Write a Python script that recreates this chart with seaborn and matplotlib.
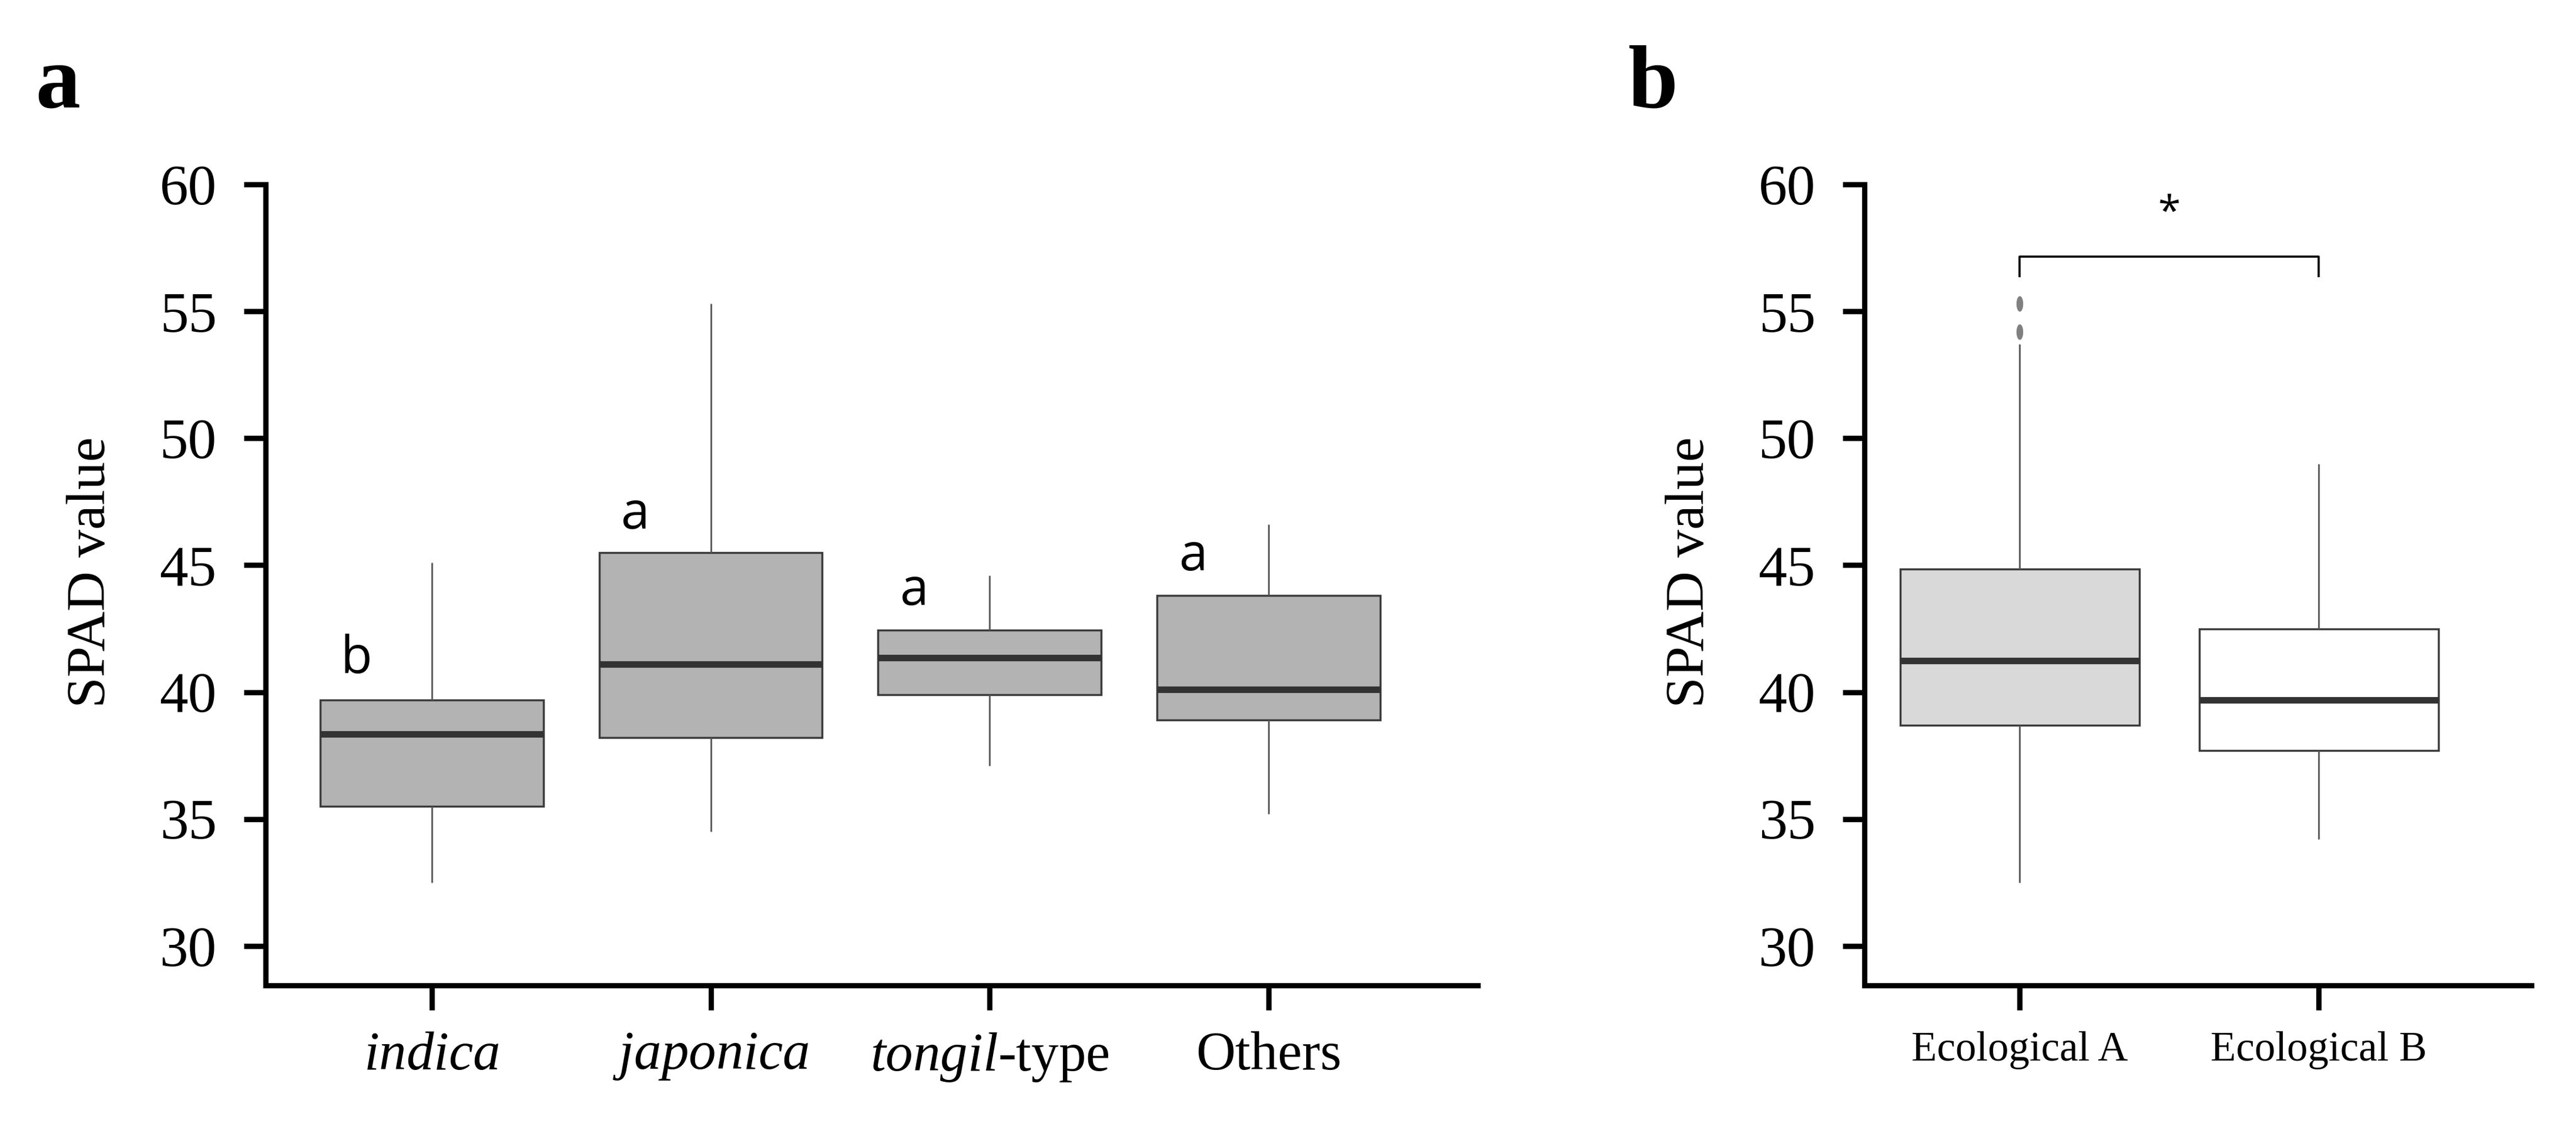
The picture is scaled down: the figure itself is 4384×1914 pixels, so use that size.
import numpy as np
import pandas as pd
import matplotlib
matplotlib.use("Agg")
import matplotlib.pyplot as plt
from matplotlib.path import Path
import seaborn as sns

# ---------------- data ----------------
cats_a = ["indica", "japonica", "tongil-type", "Others"]
tick_labels_a = [r"$\mathit{indica}$", r"$\mathit{japonica}$", r"$\mathit{tongil}$-type", "Others"]
lo_a = [32.5, 34.5, 37.1, 35.2]
q1_a = [35.5, 38.2, 39.9, 38.9]
med_a = [38.35, 41.1, 41.35, 40.1]
q3_a = [39.7, 45.5, 42.45, 43.8]
hi_a = [45.1, 55.3, 44.6, 46.6]
fliers_a = [[], [], [], []]
letters_a = ["b", "a", "a", "a"]
letter_y_a = [40.75, 46.45, 43.45, 44.8]   # baseline of the letters

cats_b = ["Ecological A", "Ecological B"]
lo_b = [32.5, 34.2]
q1_b = [38.7, 37.7]
med_b = [41.25, 39.7]
q3_b = [44.85, 42.5]
hi_b = [53.7, 49.0]
fliers_b = [[54.2, 55.3], []]
sig_label = "*"
bracket_y = 57.15
bracket_drop = 0.8
star_y = 58.85

colors_a = ["#b3b3b3"] * 4
colors_b = ["#d9d9d9", "#ffffff"]


def build(cats, lo, q1, med, q3, hi, fl):
    rows = []
    for c, a, b, m, d, e, f in zip(cats, lo, q1, med, q3, hi, fl):
        vals = [a] + [b] * 3 + [m] * 3 + [d] * 3 + [e] + list(f)
        rows += [(c, v) for v in vals]
    return pd.DataFrame(rows, columns=["group", "SPAD"])


df_a = build(cats_a, lo_a, q1_a, med_a, q3_a, hi_a, fliers_a)
df_b = build(cats_b, lo_b, q1_b, med_b, q3_b, hi_b, fliers_b)

# ---------------- style ----------------
sns.set_theme(style="ticks")
plt.rcParams["font.family"] = ["Liberation Serif", "DejaVu Serif"]
plt.rcParams["mathtext.fontset"] = "custom"
plt.rcParams["mathtext.rm"] = "Liberation Serif"
plt.rcParams["mathtext.it"] = "Liberation Serif:italic"
for k in ("text.color", "axes.labelcolor", "xtick.color", "ytick.color"):
    plt.rcParams[k] = "black"

t = np.linspace(0, 2 * np.pi, 60)
ellipse = Path(np.column_stack([0.4 * np.cos(t), np.sin(t)]), closed=True)

fig = plt.figure(figsize=(43.84, 19.14), dpi=100)
bottom, top = 1 - 1678 / 1914, 1 - 314 / 1914
ax_a = fig.add_axes([452 / 4384, bottom, (2515 - 452) / 4384, top - bottom])
ax_b = fig.add_axes([3173 / 4384, bottom, (4308 - 3173) / 4384, top - bottom])

common = dict(
    width=0.8, whis=1.5, showcaps=False, linewidth=2.5, linecolor="#3c3c3c",
    boxprops={"edgecolor": "#3c3c3c", "linewidth": 2.5},
    medianprops={"color": "#333333", "linewidth": 8},
    whiskerprops={"color": "#555555", "linewidth": 2.0},
    flierprops={"marker": ellipse, "markerfacecolor": "#808080",
                "markeredgecolor": "#808080", "markersize": 18},
    legend=False,
)

sns.boxplot(data=df_a, x="group", y="SPAD", hue="group", order=cats_a,
            hue_order=cats_a, palette=colors_a, saturation=1, ax=ax_a, **common)
sns.boxplot(data=df_b, x="group", y="SPAD", hue="group", order=cats_b,
            hue_order=cats_b, palette=colors_b, saturation=1, ax=ax_b, **common)

for ax, xl in ((ax_a, (-0.596, 3.75)), (ax_b, (-0.519, 1.711))):
    ax.set_xlim(*xl)
    ax.set_ylim(28.45, 60)
    ax.set_yticks([30, 35, 40, 45, 50, 55, 60])
    sns.despine(ax=ax)
    for s in ("left", "bottom"):
        ax.spines[s].set_linewidth(6.5)
        ax.spines[s].set_color("black")
    ax.tick_params(axis="y", length=27, width=6.5, color="black", labelsize=70, pad=33)
    ax.tick_params(axis="x", length=30, width=6.5, color="black", pad=26)
    ax.set_xlabel("")
    ax.set_ylabel("SPAD value", fontsize=68)

ax_a.set_xticks(range(len(cats_a)))
ax_a.set_xticklabels(tick_labels_a, fontsize=67)
ax_b.set_xticks(range(len(cats_b)))
ax_b.set_xticklabels(cats_b, fontsize=51)

ax_a.yaxis.set_label_coords(-0.123, 0.516)
ax_b.yaxis.set_label_coords(-0.224, 0.516)

# group letters
for i, (lab, y) in enumerate(zip(letters_a, letter_y_a)):
    ax_a.text(i - 0.27, y, lab, ha="center", va="baseline", fontsize=63,
              family=["Open Sans", "DejaVu Sans"])

# significance bracket
ax_b.plot([0, 0, 1, 1], [bracket_y - bracket_drop, bracket_y, bracket_y, bracket_y - bracket_drop],
          color="black", lw=2.6, solid_joinstyle="round", solid_capstyle="butt")
ax_b.text(0.5, star_y, sig_label, ha="center", va="center", fontsize=50,
          family=["Open Sans", "DejaVu Sans"])

fig.text(98 / 4384, 1 - 183 / 1914, "a", fontsize=110, fontweight="bold", ha="center", va="baseline")
fig.text(2813 / 4384, 1 - 183 / 1914, "b", fontsize=110, fontweight="bold", ha="center", va="baseline")

fig.savefig("out.png", dpi=100, facecolor="white")
